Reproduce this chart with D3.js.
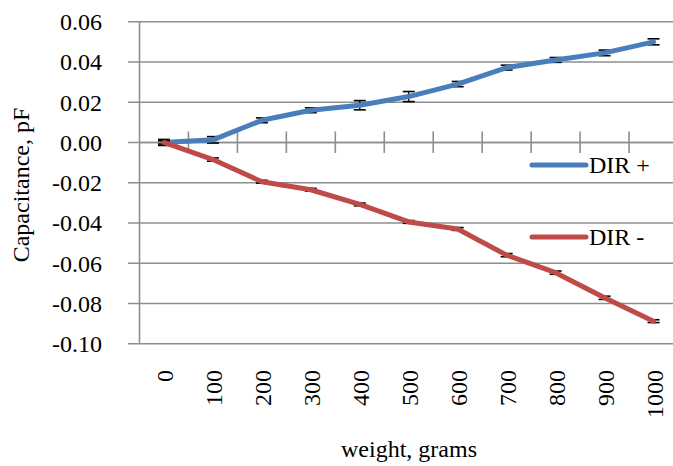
<!DOCTYPE html>
<html>
<head>
<meta charset="utf-8">
<script src="https://cdn.jsdelivr.net/npm/d3@7"></script>
<style>
  html, body { margin: 0; padding: 0; background: #fff; }
  svg { display: block; }
</style>
</head>
<body>
<svg id="chart" width="673" height="466"></svg>
<script>
// ---- data ----
const categories = ["0", "100", "200", "300", "400", "500", "600", "700", "800", "900", "1000"];
const dirPlus  = [0.0000, 0.0013, 0.0110, 0.0160, 0.0185, 0.0228, 0.0290, 0.0372, 0.0410, 0.0445, 0.0500];
const dirPlusErr = [0.0015, 0.0016, 0.0012, 0.0012, 0.0023, 0.0025, 0.0013, 0.0012, 0.0012, 0.0014, 0.0015];
const dirMinus = [0.0000, -0.0085, -0.0195, -0.0235, -0.0308, -0.0395, -0.0430, -0.0560, -0.0647, -0.0772, -0.0888];
const dirMinusErr = [0.0008, 0.0008, 0.0007, 0.0007, 0.0007, 0.0007, 0.0007, 0.0008, 0.0008, 0.0008, 0.0007];
const yTicks = [0.06, 0.04, 0.02, 0.00, -0.02, -0.04, -0.06, -0.08, -0.10];
const seriesNames = ["DIR +", "DIR -"];
const seriesColors = ["#4A7EBB", "#BE4B48"];

// ---- layout ----
const FONT = "'Liberation Serif', 'DejaVu Serif', 'Times New Roman', serif";
const FS = "24px";
const svg = d3.select("#chart");
const plot = { left: 139.5, right: 678, top: 21.7, bottom: 343.7 };
const gridColor = "#8E8E8E";

const x = d3.scaleBand().domain(categories).range([plot.left, plot.right]).padding(0);
const y = d3.scaleLinear().domain([-0.10, 0.06]).range([plot.bottom, plot.top]);
const cx = c => x(c) + x.bandwidth() / 2;

const loc = d3.formatLocale({ decimal: ".", thousands: ",", grouping: [3], currency: ["", ""], minus: "-" });
const fmt = loc.format(".2f");

function txt(sel) {
  return sel.attr("font-family", FONT).attr("font-size", FS).attr("fill", "#000");
}

// gridlines + y tick marks
svg.append("g").selectAll("line").data(yTicks).join("line")
  .attr("x1", 128).attr("x2", 673)
  .attr("y1", d => y(d)).attr("y2", d => y(d))
  .attr("stroke", gridColor).attr("stroke-width", 1.6);

// y axis line
svg.append("line")
  .attr("x1", plot.left).attr("x2", plot.left)
  .attr("y1", y(0.06)).attr("y2", y(-0.10))
  .attr("stroke", gridColor).attr("stroke-width", 1.6);

// y tick labels
txt(svg.append("g").selectAll("text").data(yTicks).join("text"))
  .attr("x", 102).attr("y", d => y(d)).attr("dy", "0.35em")
  .attr("text-anchor", "end")
  .text(d => fmt(Math.abs(d) < 1e-9 ? 0 : d));

// x axis (at y = 0) with crossing tick marks at category boundaries
const y0 = y(0);
svg.append("line")
  .attr("x1", plot.left).attr("x2", 673).attr("y1", y0).attr("y2", y0)
  .attr("stroke", gridColor).attr("stroke-width", 1.6);
svg.append("g").selectAll("line").data(categories.slice(1)).join("line")
  .attr("x1", d => x(d)).attr("x2", d => x(d))
  .attr("y1", y0 - 11).attr("y2", y0 + 10.5)
  .attr("stroke", gridColor).attr("stroke-width", 1.6);

// x tick labels (rotated)
txt(svg.append("g").selectAll("text").data(categories).join("text"))
  .attr("transform", d => `translate(${cx(d) + 1},370) rotate(-90)`)
  .attr("dy", "0.35em").attr("text-anchor", "end")
  .text(d => d);

// axis titles
txt(svg.append("text"))
  .attr("x", 409).attr("y", 457).attr("text-anchor", "middle")
  .text("weight, grams");
txt(svg.append("text"))
  .attr("transform", "translate(29,185) rotate(-90)")
  .attr("text-anchor", "middle")
  .text("Capacitance, pF");

// series
const series = [
  { name: seriesNames[0], values: dirPlus, err: dirPlusErr, color: seriesColors[0] },
  { name: seriesNames[1], values: dirMinus, err: dirMinusErr, color: seriesColors[1] }
];

const line = d3.line().x((d, i) => cx(categories[i])).y(d => y(d));

series.forEach(s => {
  const g = svg.append("g");
  const eb = g.append("g");
  s.values.forEach((v, i) => {
    const px = cx(categories[i]);
    const yt = y(v + s.err[i]), yb = y(v - s.err[i]);
    eb.append("line").attr("x1", px).attr("x2", px).attr("y1", yt).attr("y2", yb)
      .attr("stroke", "#000").attr("stroke-width", 1.3);
    [yt, yb].forEach(yy => eb.append("line")
      .attr("x1", px - 6).attr("x2", px + 6).attr("y1", yy).attr("y2", yy)
      .attr("stroke", "#000").attr("stroke-width", 1.6));
  });
  g.append("path").datum(s.values)
    .attr("d", line).attr("fill", "none")
    .attr("stroke", s.color).attr("stroke-width", 5)
    .attr("stroke-linejoin", "round").attr("stroke-linecap", "round");
});

// legend
const legendY = [165, 237];
series.forEach((s, i) => {
  svg.append("line")
    .attr("x1", 532).attr("x2", 586).attr("y1", legendY[i]).attr("y2", legendY[i])
    .attr("stroke", s.color).attr("stroke-width", 5).attr("stroke-linecap", "round");
  txt(svg.append("text"))
    .attr("x", 589).attr("y", legendY[i]).attr("dy", "0.35em")
    .text(s.name);
});
</script>
</body>
</html>
